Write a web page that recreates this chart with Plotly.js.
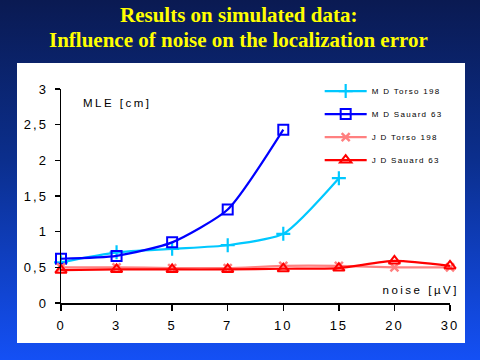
<!DOCTYPE html>
<html>
<head>
<meta charset="utf-8">
<script src="https://cdn.plot.ly/plotly-3.0.1.min.js"></script>
<style>
html, body { margin: 0; padding: 0; }
body { width: 480px; height: 360px; position: relative; overflow: hidden;
  background: linear-gradient(to bottom, #0a1a52 0%, #0b2f8e 45%, #1450f5 100%); }
#panel { position: absolute; left: 17px; top: 63px; width: 448px; height: 280px; background: #ffffff; }
#chart { position: absolute; left: 0; top: 0; width: 480px; height: 360px; }
.legendtext { letter-spacing: 1.3px; }
.xtick text, .ytick text { letter-spacing: 2px; }
.annotation[data-index="2"] text,
.annotation[data-index="3"] text { letter-spacing: 2.5px; }
</style>
</head>
<body>
<div id="panel"></div>
<div id="chart"></div>
<script>
const categories = ['0', '3', '5', '7', '10', '15', '20', '30'];
const mdTorso198 = [0.57, 0.71, 0.76, 0.81, 0.97, 1.75, null, null];
const mdSauard63 = [0.62, 0.66, 0.85, 1.31, 2.43, null, null, null];
const jdTorso198 = [0.50, 0.50, 0.49, 0.49, 0.52, 0.52, 0.50, 0.50];
const jdSauard63 = [0.46, 0.47, 0.47, 0.47, 0.48, 0.49, 0.59, 0.52];
const seriesNames = ['M D Torso 198', 'M D Sauard 63', 'J D Torso 198', 'J D Sauard 63'];
const titleLines = ['Results on simulated data:', 'Influence of noise on the localization error'];

const traces = [
  {
    x: categories, y: mdTorso198, name: seriesNames[0], type: 'scatter', mode: 'lines+markers',
    line: {color: '#00c8ff', width: 2.2, shape: 'spline', smoothing: 0.6},
    marker: {symbol: 'cross-thin-open', size: 10, line: {color: '#00c8ff', width: 2.2}},
    cliponaxis: false, legendgroup: 'a'
  },
  {
    x: categories, y: mdSauard63, name: seriesNames[1], type: 'scatter', mode: 'lines+markers',
    line: {color: '#0000ff', width: 2.2, shape: 'spline', smoothing: 0.6},
    marker: {symbol: 'square-open', size: 10, color: '#0000ff', line: {color: '#0000ff', width: 2}},
    cliponaxis: false, legendgroup: 'b'
  },
  {
    x: categories, y: jdTorso198, name: seriesNames[2], type: 'scatter', mode: 'lines+markers',
    line: {color: '#ff8080', width: 2.2, shape: 'spline', smoothing: 0.6},
    marker: {symbol: 'x-thin-open', size: 8, line: {color: '#ff8080', width: 2.5}},
    cliponaxis: false, legendgroup: 'c'
  },
  {
    x: categories, y: jdSauard63, name: seriesNames[3], type: 'scatter', mode: 'lines+markers',
    line: {color: '#ff0000', width: 2.2, shape: 'spline', smoothing: 0.6},
    marker: {symbol: 'triangle-up-open', size: 10, color: '#ff0000', line: {color: '#ff0000', width: 2}},
    cliponaxis: false, legendgroup: 'd'
  }
];

const tickFont = {family: 'Liberation Sans, Arial, sans-serif', size: 13, color: '#000000'};
const titleFont = {family: 'Liberation Serif, Times New Roman, serif', size: 21, color: '#ffff00', weight: 'bold'};
const labelFont = {family: 'Liberation Sans, Arial, sans-serif', size: 11.5, color: '#000000'};

const layout = {
  width: 480, height: 360,
  paper_bgcolor: 'rgba(0,0,0,0)',
  plot_bgcolor: '#ffffff',
  separators: ',.',
  margin: {l: 61, r: 30, t: 89, b: 57, pad: 0},
  xaxis: {
    type: 'category', range: [0, 7],
    showline: true, linecolor: '#000000', linewidth: 1.5,
    showgrid: false, zeroline: false,
    ticks: 'outside', ticklen: 6, tickwidth: 1.5, tickcolor: '#000000',
    tickfont: tickFont, ticklabelstandoff: 4
  },
  yaxis: {
    range: [0, 3], dtick: 0.5, tick0: 0,
    showline: true, linecolor: '#000000', linewidth: 1.5,
    showgrid: false, zeroline: false,
    ticks: 'outside', ticklen: 5, tickwidth: 1.5, tickcolor: '#000000',
    tickfont: tickFont, ticklabelstandoff: 4
  },
  showlegend: true,
  legend: {
    x: 0.665, y: 1.058, xanchor: 'left', yanchor: 'top',
    bgcolor: 'rgba(0,0,0,0)',
    font: {family: 'Liberation Sans, Arial, sans-serif', size: 8, color: '#000000'},
    tracegroupgap: 4,
    itemwidth: 42
  },
  annotations: [
    {text: titleLines[0], xref: 'paper', yref: 'paper', x: 0.4563, y: 1.3458, xanchor: 'center', yanchor: 'middle',
     showarrow: false, font: titleFont},
    {text: titleLines[1], xref: 'paper', yref: 'paper', x: 0.4563, y: 1.229, xanchor: 'center', yanchor: 'middle',
     showarrow: false, font: titleFont},
    {text: 'MLE [cm]', xref: 'paper', yref: 'paper', x: 0.077, y: 0.935, xanchor: 'left', yanchor: 'middle',
     showarrow: false, font: labelFont},
    {text: 'noise [µV]', xref: 'paper', yref: 'paper', x: 0.995, y: 0.061, xanchor: 'right', yanchor: 'middle',
     showarrow: false, font: labelFont}
  ]
};

Plotly.newPlot('chart', traces, layout, {displayModeBar: false, staticPlot: true});
</script>
</body>
</html>
